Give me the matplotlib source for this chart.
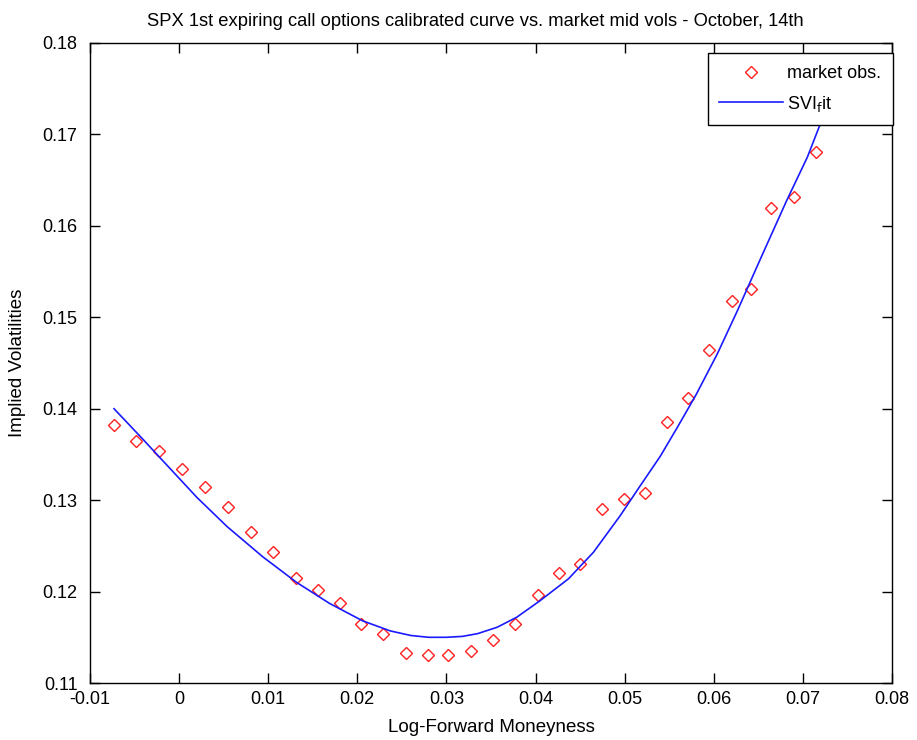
import matplotlib
matplotlib.use("Agg")
import matplotlib.pyplot as plt
import numpy as np

# market observations (log-forward moneyness, implied vol)
market_x = [-0.0073, -0.0048, -0.0023, 0.0003, 0.0029, 0.0055, 0.0081, 0.0105,
            0.0131, 0.0156, 0.0181, 0.0204, 0.0229, 0.0255, 0.0279, 0.0302,
            0.0328, 0.0352, 0.0377, 0.0403, 0.0426, 0.0450, 0.0475, 0.0499,
            0.0523, 0.0548, 0.0571, 0.0595, 0.0621, 0.0642, 0.0664, 0.0690,
            0.0715]
market_vol = [0.1382, 0.1365, 0.1354, 0.1334, 0.1314, 0.1292, 0.1265, 0.1243,
              0.1215, 0.1202, 0.1187, 0.1165, 0.1154, 0.1133, 0.1131, 0.1131,
              0.1135, 0.1147, 0.1165, 0.1196, 0.1220, 0.1230, 0.1290, 0.1301,
              0.1308, 0.1385, 0.1412, 0.1464, 0.1518, 0.1531, 0.1620, 0.1632,
              0.1681]

# calibrated SVI curve
fit_x = [-0.0073, -0.0040, -0.0021, 0.0000, 0.0020, 0.0054, 0.0094, 0.0132,
         0.0169, 0.0206, 0.0237, 0.0260, 0.0280, 0.0300, 0.0318, 0.0335,
         0.0357, 0.0379, 0.0405, 0.0437, 0.0465, 0.0495, 0.0517, 0.0540,
         0.0560, 0.0580, 0.0604, 0.0626, 0.0652, 0.0682, 0.0705, 0.0719,
         0.0735]
fit_vol = [0.1400, 0.1366, 0.1346, 0.1324, 0.1303, 0.1271, 0.1238, 0.1210,
           0.1187, 0.1168, 0.1157, 0.1152, 0.1150, 0.1150, 0.1151, 0.1154,
           0.1161, 0.1172, 0.1190, 0.1214, 0.1243, 0.1283, 0.1315, 0.1348,
           0.1381, 0.1415, 0.1460, 0.1506, 0.1563, 0.1628, 0.1675, 0.1710,
           0.1755]

x_ticks = [-0.01, 0, 0.01, 0.02, 0.03, 0.04, 0.05, 0.06, 0.07, 0.08]
x_labels = ["-0.01", "0", "0.01", "0.02", "0.03", "0.04", "0.05", "0.06", "0.07", "0.08"]
y_ticks = [0.11, 0.12, 0.13, 0.14, 0.15, 0.16, 0.17, 0.18]
y_labels = ["0.11", "0.12", "0.13", "0.14", "0.15", "0.16", "0.17", "0.18"]

plt.rcParams["font.family"] = ["Liberation Sans", "DejaVu Sans"]

fig = plt.figure(figsize=(9.17, 7.40), dpi=100)
ax = fig.add_axes([0.0981, 0.0770, 0.8746, 0.8649])

ax.plot(market_x, market_vol, linestyle="none", marker="D", markersize=6.5,
        markerfacecolor="none", markeredgecolor="#ff2020", markeredgewidth=1.0,
        label="market obs.")
ax.plot(fit_x, fit_vol, color="#1a1aff", linewidth=1.2, label=r"SVI$_\mathrm{f}$it")

ax.set_xlim(-0.01, 0.08)
ax.set_ylim(0.11, 0.18)
ax.set_xticks(x_ticks)
ax.set_xticklabels(x_labels)
ax.set_yticks(y_ticks)
ax.set_yticklabels(y_labels)
ax.tick_params(direction="in", length=7, width=1, top=True, right=True, labelsize=13)
ax.tick_params(axis="x", pad=6)
ax.tick_params(axis="y", pad=9)
for s in ax.spines.values():
    s.set_linewidth(1.0)

ax.set_title("SPX 1st expiring call options calibrated curve vs. market mid vols - October, 14th",
             fontsize=13.2, pad=12, x=0.48)
ax.set_xlabel("Log-Forward Moneyness", fontsize=13.5, labelpad=8)
ax.set_ylabel("Implied Volatilities", fontsize=13.5, labelpad=12)

leg = ax.legend(loc="upper right", bbox_to_anchor=(1.001, 0.984), fontsize=13,
                fancybox=False, framealpha=1.0, edgecolor="black",
                borderaxespad=0.0, handlelength=3.5, handletextpad=0.25,
                borderpad=0.65, labelspacing=0.65)
leg.get_frame().set_linewidth(1.0)

fig.savefig("out.png", dpi=100)
